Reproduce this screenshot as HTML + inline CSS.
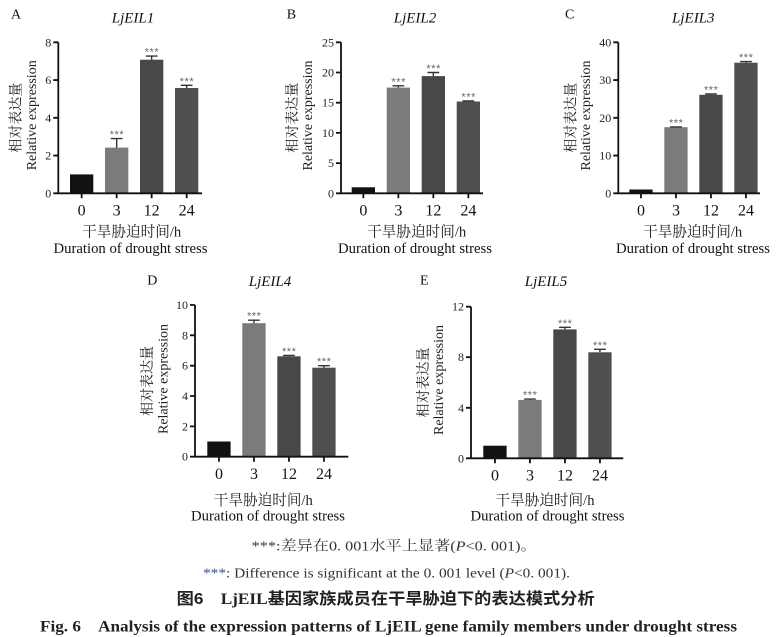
<!DOCTYPE html>
<html><head><meta charset="utf-8"><style>
html,body{margin:0;padding:0;background:#fff;}
svg{display:block;}
.s{font-family:"Liberation Serif","Noto Serif CJK SC",serif;}
.cn{font-family:"Liberation Serif","Noto Serif CJK SC",serif;}
.tk{font-family:"Liberation Serif",serif;font-size:12px;fill:#222;}
.xt{font-family:"Liberation Serif",serif;font-size:16px;fill:#111;text-anchor:middle;}
.st{font-family:"Liberation Sans",sans-serif;font-size:11px;fill:#666;text-anchor:middle;}
.ttl{font-family:"Liberation Serif",serif;font-style:italic;font-size:15px;fill:#111;text-anchor:middle;}
.lab{font-family:"Liberation Serif",serif;font-size:14px;fill:#111;}
.ax{stroke:#111;stroke-width:1.8;fill:none;}
.eb{stroke:#333;stroke-width:1.4;fill:none;}
</style></head><body>
<svg width="782" height="637" viewBox="0 0 782 637" xmlns="http://www.w3.org/2000/svg">
<rect width="782" height="637" fill="#fff"/>

<!-- ============ Panel A ============ -->
<text x="11" y="18.3" class="lab">A</text>
<text x="133" y="22.7" class="ttl">LjEIL1</text>
<text class="cn" font-size="14" fill="#222" text-anchor="middle" textLength="70" lengthAdjust="spacingAndGlyphs" transform="translate(20.3,117.8) rotate(-90)">相对表达量</text>
<text class="s" font-size="14" fill="#222" text-anchor="middle" textLength="110" lengthAdjust="spacingAndGlyphs" transform="translate(35.8,115.3) rotate(-90)">Relative expression</text>
<rect x="70" y="174.4" width="23.3" height="18.9" fill="#121212"/>
<rect x="105" y="147.6" width="23.3" height="45.7" fill="#7b7b7b"/>
<rect x="140" y="59.7" width="23.3" height="133.6" fill="#484848"/>
<rect x="175" y="88.0" width="23.3" height="105.3" fill="#4f4f4f"/>
<path class="eb" d="M116.65 147.6V138.6M110.8 138.6H122.5M151.65 59.7V56.1M145.8 56.1H157.5M186.65 88V85.3M180.8 85.3H192.5"/>
<text x="116.65" y="138.1" class="st" textLength="14">***</text>
<text x="151.65" y="55.6" class="st" textLength="14">***</text>
<text x="186.65" y="84.8" class="st" textLength="14">***</text>
<path class="ax" d="M58.3 42.3V193.3H202M53.3 42.3H58.3M53.3 80.05H58.3M53.3 117.8H58.3M53.3 155.55H58.3M53.3 193.3H58.3M81.65 193.3V198.3M116.65 193.3V198.3M151.65 193.3V198.3M186.65 193.3V198.3"/>
<g text-anchor="end">
<text x="51.3" y="46.3" class="tk">8</text><text x="51.3" y="84.05" class="tk">6</text><text x="51.3" y="121.8" class="tk">4</text><text x="51.3" y="159.55" class="tk">2</text><text x="51.3" y="197.3" class="tk">0</text>
</g>
<text x="81.65" y="215.5" class="xt">0</text><text x="116.65" y="215.5" class="xt">3</text><text x="151.65" y="215.5" class="xt">12</text><text x="186.65" y="215.5" class="xt">24</text>
<text x="131.7" y="236.3" class="cn" font-size="15" fill="#222" text-anchor="middle" textLength="99" lengthAdjust="spacingAndGlyphs">干旱胁迫时间/h</text>
<text x="130.5" y="253.2" class="s" font-size="15" fill="#111" text-anchor="middle" textLength="154" lengthAdjust="spacingAndGlyphs">Duration of drought stress</text>

<!-- ============ Panel B ============ -->
<text x="286.7" y="18.3" class="lab">B</text>
<text x="415" y="22.7" class="ttl">LjEIL2</text>
<text class="cn" font-size="14" fill="#222" text-anchor="middle" textLength="70" lengthAdjust="spacingAndGlyphs" transform="translate(297,117.8) rotate(-90)">相对表达量</text>
<text class="s" font-size="14" fill="#222" text-anchor="middle" textLength="110" lengthAdjust="spacingAndGlyphs" transform="translate(312.2,115.5) rotate(-90)">Relative expression</text>
<rect x="351.7" y="187.26" width="23.3" height="6.04" fill="#121212"/>
<rect x="386.7" y="87.6" width="23.3" height="105.7" fill="#7b7b7b"/>
<rect x="421.7" y="76.1" width="23.3" height="117.2" fill="#484848"/>
<rect x="456.7" y="101.5" width="23.3" height="91.8" fill="#4f4f4f"/>
<path class="eb" d="M398.35 87.6V85.8M392.5 85.8H404.2M433.35 76.1V72.5M427.5 72.5H439.2M468.35 101.5V100.9M462.5 100.9H474.2"/>
<text x="398.35" y="85.3" class="st" textLength="14">***</text>
<text x="433.35" y="72.0" class="st" textLength="14">***</text>
<text x="468.35" y="100.4" class="st" textLength="14">***</text>
<path class="ax" d="M341 42.3V193.3H483M336 42.3H341M336 72.5H341M336 102.7H341M336 132.9H341M336 163.1H341M336 193.3H341M363.35 193.3V198.3M398.35 193.3V198.3M433.35 193.3V198.3M468.35 193.3V198.3"/>
<g text-anchor="end">
<text x="334" y="46.3" class="tk">25</text><text x="334" y="76.5" class="tk">20</text><text x="334" y="106.7" class="tk">15</text><text x="334" y="136.9" class="tk">10</text><text x="334" y="167.1" class="tk">5</text><text x="334" y="197.3" class="tk">0</text>
</g>
<text x="363.35" y="215.5" class="xt">0</text><text x="398.35" y="215.5" class="xt">3</text><text x="433.35" y="215.5" class="xt">12</text><text x="468.35" y="215.5" class="xt">24</text>
<text x="416.7" y="236.3" class="cn" font-size="15" fill="#222" text-anchor="middle" textLength="99" lengthAdjust="spacingAndGlyphs">干旱胁迫时间/h</text>
<text x="415" y="253.2" class="s" font-size="15" fill="#111" text-anchor="middle" textLength="154" lengthAdjust="spacingAndGlyphs">Duration of drought stress</text>

<!-- ============ Panel C ============ -->
<text x="565" y="18.3" class="lab">C</text>
<text x="693.3" y="22.7" class="ttl">LjEIL3</text>
<text class="cn" font-size="14" fill="#222" text-anchor="middle" textLength="70" lengthAdjust="spacingAndGlyphs" transform="translate(575.3,117.8) rotate(-90)">相对表达量</text>
<text class="s" font-size="14" fill="#222" text-anchor="middle" textLength="110" lengthAdjust="spacingAndGlyphs" transform="translate(589.9,115.5) rotate(-90)">Relative expression</text>
<rect x="629.3" y="189.5" width="23.3" height="3.8" fill="#121212"/>
<rect x="664.3" y="127.2" width="23.3" height="66.1" fill="#7b7b7b"/>
<rect x="699.3" y="94.8" width="23.3" height="98.5" fill="#484848"/>
<rect x="734.3" y="62.7" width="23.3" height="130.6" fill="#4f4f4f"/>
<path class="eb" d="M675.95 127.2V126.9M670.1 126.9H681.8M710.95 94.8V94M705.1 94H716.8M745.95 62.7V61.6M740.1 61.6H751.8"/>
<text x="675.95" y="126.4" class="st" textLength="14">***</text>
<text x="710.95" y="93.5" class="st" textLength="14">***</text>
<text x="745.95" y="61.1" class="st" textLength="14">***</text>
<path class="ax" d="M618.3 42.3V193.3H760M613.3 42.3H618.3M613.3 80.05H618.3M613.3 117.8H618.3M613.3 155.55H618.3M613.3 193.3H618.3M640.95 193.3V198.3M675.95 193.3V198.3M710.95 193.3V198.3M745.95 193.3V198.3"/>
<g text-anchor="end">
<text x="611.3" y="46.3" class="tk">40</text><text x="611.3" y="84.05" class="tk">30</text><text x="611.3" y="121.8" class="tk">20</text><text x="611.3" y="159.55" class="tk">10</text><text x="611.3" y="197.3" class="tk">0</text>
</g>
<text x="640.95" y="215.5" class="xt">0</text><text x="675.95" y="215.5" class="xt">3</text><text x="710.95" y="215.5" class="xt">12</text><text x="745.95" y="215.5" class="xt">24</text>
<text x="692.7" y="236.3" class="cn" font-size="15" fill="#222" text-anchor="middle" textLength="99" lengthAdjust="spacingAndGlyphs">干旱胁迫时间/h</text>
<text x="693" y="253.2" class="s" font-size="15" fill="#111" text-anchor="middle" textLength="154" lengthAdjust="spacingAndGlyphs">Duration of drought stress</text>

<!-- ============ Panel D ============ -->
<text x="147.3" y="284.3" class="lab">D</text>
<text x="270" y="286" class="ttl">LjEIL4</text>
<text class="cn" font-size="14" fill="#222" text-anchor="middle" textLength="70" lengthAdjust="spacingAndGlyphs" transform="translate(152,381) rotate(-90)">相对表达量</text>
<text class="s" font-size="14" fill="#222" text-anchor="middle" textLength="110" lengthAdjust="spacingAndGlyphs" transform="translate(167.5,379) rotate(-90)">Relative expression</text>
<rect x="207.3" y="441.5" width="23.3" height="15.2" fill="#121212"/>
<rect x="242.3" y="323.2" width="23.3" height="133.5" fill="#7b7b7b"/>
<rect x="277.3" y="356.3" width="23.3" height="100.4" fill="#484848"/>
<rect x="312.3" y="367.7" width="23.3" height="89.0" fill="#4f4f4f"/>
<path class="eb" d="M253.95 323.2V320.2M248.1 320.2H259.8M288.95 356.3V355.4M283.1 355.4H294.8M323.95 367.7V365.7M318.1 365.7H329.8"/>
<text x="253.95" y="319.7" class="st" textLength="14">***</text>
<text x="288.95" y="354.9" class="st" textLength="14">***</text>
<text x="323.95" y="365.2" class="st" textLength="14">***</text>
<path class="ax" d="M195 305V456.7H348.3M190 305H195M190 335.3H195M190 365.7H195M190 396H195M190 426.4H195M190 456.7H195M218.95 456.7V461.7M253.95 456.7V461.7M288.95 456.7V461.7M323.95 456.7V461.7"/>
<g text-anchor="end">
<text x="188" y="309" class="tk">10</text><text x="188" y="339.3" class="tk">8</text><text x="188" y="369.7" class="tk">6</text><text x="188" y="400" class="tk">4</text><text x="188" y="430.4" class="tk">2</text><text x="188" y="460.7" class="tk">0</text>
</g>
<text x="218.95" y="478.8" class="xt">0</text><text x="253.95" y="478.8" class="xt">3</text><text x="288.95" y="478.8" class="xt">12</text><text x="323.95" y="478.8" class="xt">24</text>
<text x="263.3" y="505.2" class="cn" font-size="15" fill="#222" text-anchor="middle" textLength="99" lengthAdjust="spacingAndGlyphs">干旱胁迫时间/h</text>
<text x="268" y="520.5" class="s" font-size="15" fill="#111" text-anchor="middle" textLength="154" lengthAdjust="spacingAndGlyphs">Duration of drought stress</text>

<!-- ============ Panel E ============ -->
<text x="420" y="284.3" class="lab">E</text>
<text x="546" y="286" class="ttl">LjEIL5</text>
<text class="cn" font-size="14" fill="#222" text-anchor="middle" textLength="70" lengthAdjust="spacingAndGlyphs" transform="translate(428,382.5) rotate(-90)">相对表达量</text>
<text class="s" font-size="14" fill="#222" text-anchor="middle" textLength="110" lengthAdjust="spacingAndGlyphs" transform="translate(443.2,380) rotate(-90)">Relative expression</text>
<rect x="483.3" y="445.7" width="23.3" height="12.6" fill="#121212"/>
<rect x="518.3" y="399.9" width="23.3" height="58.4" fill="#7b7b7b"/>
<rect x="553.3" y="329.4" width="23.3" height="128.9" fill="#484848"/>
<rect x="588.3" y="352.3" width="23.3" height="106.0" fill="#4f4f4f"/>
<path class="eb" d="M529.95 399.9V399.1M524.1 399.1H535.8M564.95 329.4V327.3M559.1 327.3H570.8M599.95 352.3V349.3M594.1 349.3H605.8"/>
<text x="529.95" y="398.6" class="st" textLength="14">***</text>
<text x="564.95" y="326.8" class="st" textLength="14">***</text>
<text x="599.95" y="348.8" class="st" textLength="14">***</text>
<path class="ax" d="M471 306.7V458.3H623.3M466 306.7H471M466 357.2H471M466 407.8H471M466 458.3H471M494.95 458.3V463.3M529.95 458.3V463.3M564.95 458.3V463.3M599.95 458.3V463.3"/>
<g text-anchor="end">
<text x="464" y="310.7" class="tk">12</text><text x="464" y="361.2" class="tk">8</text><text x="464" y="411.8" class="tk">4</text><text x="464" y="462.3" class="tk">0</text>
</g>
<text x="494.95" y="480.3" class="xt">0</text><text x="529.95" y="480.3" class="xt">3</text><text x="564.95" y="480.3" class="xt">12</text><text x="599.95" y="480.3" class="xt">24</text>
<text x="545" y="505.2" class="cn" font-size="15" fill="#222" text-anchor="middle" textLength="99" lengthAdjust="spacingAndGlyphs">干旱胁迫时间/h</text>
<text x="547.5" y="520.5" class="s" font-size="15" fill="#111" text-anchor="middle" textLength="154" lengthAdjust="spacingAndGlyphs">Duration of drought stress</text>

<!-- ============ Captions ============ -->
<text x="251.7" y="550.5" class="cn" font-size="14" fill="#333" textLength="285" lengthAdjust="spacingAndGlyphs">***:差异在0. 001水平上显著(<tspan font-style="italic">P</tspan>&lt;0. 001)。</text>
<text x="203" y="577.3" class="s" font-size="13.5" fill="#333" textLength="367" lengthAdjust="spacingAndGlyphs"><tspan fill="#3d4c8c">***</tspan>: Difference is significant at the 0. 001 level (<tspan font-style="italic">P</tspan>&lt;0. 001).</text>
<text x="176.7" y="604" font-family="'Liberation Sans','Noto Sans CJK SC',sans-serif" font-weight="bold" font-size="16" fill="#222" textLength="418" lengthAdjust="spacingAndGlyphs">图6　<tspan font-family="'Liberation Serif',serif">LjEIL</tspan>基因家族成员在干旱胁迫下的表达模式分析</text>
<text x="40" y="631.5" class="s" font-weight="bold" font-size="16" fill="#222" textLength="697" lengthAdjust="spacingAndGlyphs">Fig. 6　Analysis of the expression patterns of LjEIL gene family members under drought stress</text>
</svg>
</body></html>
